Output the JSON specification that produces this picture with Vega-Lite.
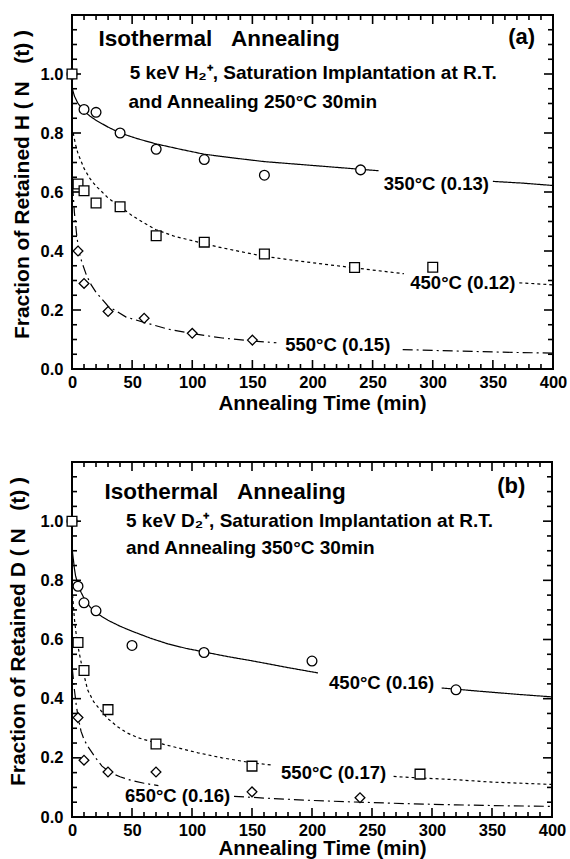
{
  "$schema": "https://vega.github.io/schema/vega-lite/v6.json",
  "padding": {"left": 6, "top": 13, "right": 14, "bottom": 0},
  "spacing": 45,
  "config": {
    "view": {"stroke": "black", "strokeWidth": 2},
    "font": "Liberation Sans",
    "axis": {"labelFont": "Liberation Sans", "labelFontWeight": "bold", "labelFontSize": 16.5, "labelColor": "black", "titleFont": "Liberation Sans", "titleFontWeight": "bold", "titleFontSize": 20.5, "titleColor": "black", "ticks": false, "domain": false, "grid": false, "labelOverlap": false, "labelBound": false, "labelFlush": false},
    "text": {"font": "Liberation Sans", "fontWeight": "bold", "color": "black"},
    "rule": {"color": "black", "opacity": 1, "strokeWidth": 1.6}
  },
  "datasets": {
    "xt": [
      {"t": 10, "m": 0}, {"t": 20, "m": 0}, {"t": 30, "m": 0}, {"t": 40, "m": 0}, {"t": 50, "m": 1}, {"t": 60, "m": 0}, {"t": 70, "m": 0}, {"t": 80, "m": 0}, {"t": 90, "m": 0}, {"t": 100, "m": 1},
      {"t": 110, "m": 0}, {"t": 120, "m": 0}, {"t": 130, "m": 0}, {"t": 140, "m": 0}, {"t": 150, "m": 1}, {"t": 160, "m": 0}, {"t": 170, "m": 0}, {"t": 180, "m": 0}, {"t": 190, "m": 0}, {"t": 200, "m": 1},
      {"t": 210, "m": 0}, {"t": 220, "m": 0}, {"t": 230, "m": 0}, {"t": 240, "m": 0}, {"t": 250, "m": 1}, {"t": 260, "m": 0}, {"t": 270, "m": 0}, {"t": 280, "m": 0}, {"t": 290, "m": 0}, {"t": 300, "m": 1},
      {"t": 310, "m": 0}, {"t": 320, "m": 0}, {"t": 330, "m": 0}, {"t": 340, "m": 0}, {"t": 350, "m": 1}, {"t": 360, "m": 0}, {"t": 370, "m": 0}, {"t": 380, "m": 0}, {"t": 390, "m": 0}
    ],
    "yt": [
      {"v": 0.05, "m": 0}, {"v": 0.1, "m": 0}, {"v": 0.15, "m": 0}, {"v": 0.2, "m": 1}, {"v": 0.25, "m": 0}, {"v": 0.3, "m": 0}, {"v": 0.35, "m": 0}, {"v": 0.4, "m": 1},
      {"v": 0.45, "m": 0}, {"v": 0.5, "m": 0}, {"v": 0.55, "m": 0}, {"v": 0.6, "m": 1}, {"v": 0.65, "m": 0}, {"v": 0.7, "m": 0}, {"v": 0.75, "m": 0}, {"v": 0.8, "m": 1},
      {"v": 0.85, "m": 0}, {"v": 0.9, "m": 0}, {"v": 0.95, "m": 0}, {"v": 1.0, "m": 1}, {"v": 1.05, "m": 0}, {"v": 1.1, "m": 0}, {"v": 1.15, "m": 0}
    ],
    "curvesA": [
      {"s": "A", "seg": 1, "t": 0.3, "v": 0.95}, {"s": "A", "seg": 1, "t": 2, "v": 0.925}, {"s": "A", "seg": 1, "t": 5, "v": 0.9}, {"s": "A", "seg": 1, "t": 10, "v": 0.875}, {"s": "A", "seg": 1, "t": 15, "v": 0.857}, {"s": "A", "seg": 1, "t": 20, "v": 0.843}, {"s": "A", "seg": 1, "t": 30, "v": 0.82}, {"s": "A", "seg": 1, "t": 40, "v": 0.8}, {"s": "A", "seg": 1, "t": 55, "v": 0.78}, {"s": "A", "seg": 1, "t": 70, "v": 0.763}, {"s": "A", "seg": 1, "t": 90, "v": 0.745}, {"s": "A", "seg": 1, "t": 110, "v": 0.728}, {"s": "A", "seg": 1, "t": 135, "v": 0.715}, {"s": "A", "seg": 1, "t": 160, "v": 0.703}, {"s": "A", "seg": 1, "t": 200, "v": 0.69}, {"s": "A", "seg": 1, "t": 240, "v": 0.677}, {"s": "A", "seg": 1, "t": 255, "v": 0.672},
      {"s": "A", "seg": 2, "t": 350, "v": 0.636}, {"s": "A", "seg": 2, "t": 375, "v": 0.63}, {"s": "A", "seg": 2, "t": 400, "v": 0.622},
      {"s": "B", "seg": 1, "t": 1, "v": 0.8}, {"s": "B", "seg": 1, "t": 3, "v": 0.76}, {"s": "B", "seg": 1, "t": 5, "v": 0.73}, {"s": "B", "seg": 1, "t": 8, "v": 0.7}, {"s": "B", "seg": 1, "t": 10, "v": 0.68}, {"s": "B", "seg": 1, "t": 15, "v": 0.645}, {"s": "B", "seg": 1, "t": 20, "v": 0.62}, {"s": "B", "seg": 1, "t": 30, "v": 0.58}, {"s": "B", "seg": 1, "t": 40, "v": 0.55}, {"s": "B", "seg": 1, "t": 50, "v": 0.52}, {"s": "B", "seg": 1, "t": 60, "v": 0.495}, {"s": "B", "seg": 1, "t": 70, "v": 0.472}, {"s": "B", "seg": 1, "t": 85, "v": 0.45}, {"s": "B", "seg": 1, "t": 100, "v": 0.435}, {"s": "B", "seg": 1, "t": 120, "v": 0.415}, {"s": "B", "seg": 1, "t": 140, "v": 0.398}, {"s": "B", "seg": 1, "t": 160, "v": 0.382}, {"s": "B", "seg": 1, "t": 185, "v": 0.368}, {"s": "B", "seg": 1, "t": 210, "v": 0.355}, {"s": "B", "seg": 1, "t": 235, "v": 0.343}, {"s": "B", "seg": 1, "t": 255, "v": 0.333}, {"s": "B", "seg": 1, "t": 276, "v": 0.323},
      {"s": "B", "seg": 2, "t": 372, "v": 0.292}, {"s": "B", "seg": 2, "t": 386, "v": 0.289}, {"s": "B", "seg": 2, "t": 400, "v": 0.285},
      {"s": "C", "seg": 1, "t": 0.5, "v": 0.62}, {"s": "C", "seg": 1, "t": 2, "v": 0.53}, {"s": "C", "seg": 1, "t": 4, "v": 0.45}, {"s": "C", "seg": 1, "t": 6, "v": 0.395}, {"s": "C", "seg": 1, "t": 8, "v": 0.365}, {"s": "C", "seg": 1, "t": 12, "v": 0.318}, {"s": "C", "seg": 1, "t": 16, "v": 0.285}, {"s": "C", "seg": 1, "t": 20, "v": 0.26}, {"s": "C", "seg": 1, "t": 30, "v": 0.213}, {"s": "C", "seg": 1, "t": 45, "v": 0.176}, {"s": "C", "seg": 1, "t": 60, "v": 0.158}, {"s": "C", "seg": 1, "t": 80, "v": 0.135}, {"s": "C", "seg": 1, "t": 100, "v": 0.12}, {"s": "C", "seg": 1, "t": 125, "v": 0.105}, {"s": "C", "seg": 1, "t": 150, "v": 0.095}, {"s": "C", "seg": 1, "t": 170, "v": 0.089},
      {"s": "C", "seg": 2, "t": 275, "v": 0.066}, {"s": "C", "seg": 2, "t": 300, "v": 0.063}, {"s": "C", "seg": 2, "t": 340, "v": 0.059}, {"s": "C", "seg": 2, "t": 370, "v": 0.056}, {"s": "C", "seg": 2, "t": 400, "v": 0.054}
    ],
    "pointsA": [
      {"s": "A", "t": 0, "v": 1.0}, {"s": "A", "t": 10, "v": 0.88}, {"s": "A", "t": 20, "v": 0.87}, {"s": "A", "t": 40, "v": 0.8}, {"s": "A", "t": 70, "v": 0.745}, {"s": "A", "t": 110, "v": 0.71}, {"s": "A", "t": 160, "v": 0.657}, {"s": "A", "t": 240, "v": 0.675},
      {"s": "B", "t": 0, "v": 1.0}, {"s": "B", "t": 5, "v": 0.627}, {"s": "B", "t": 10, "v": 0.604}, {"s": "B", "t": 20, "v": 0.563}, {"s": "B", "t": 40, "v": 0.55}, {"s": "B", "t": 70, "v": 0.452}, {"s": "B", "t": 110, "v": 0.43}, {"s": "B", "t": 160, "v": 0.39}, {"s": "B", "t": 235, "v": 0.344}, {"s": "B", "t": 300, "v": 0.345},
      {"s": "C", "t": 5, "v": 0.4}, {"s": "C", "t": 10, "v": 0.29}, {"s": "C", "t": 30, "v": 0.195}, {"s": "C", "t": 60, "v": 0.172}, {"s": "C", "t": 100, "v": 0.121}, {"s": "C", "t": 150, "v": 0.098}
    ],
    "labelsA": [
      {"label": "350°C (0.13)", "t": 303, "v": 0.626},
      {"label": "450°C (0.12)", "t": 325, "v": 0.29},
      {"label": "550°C (0.15)", "t": 221, "v": 0.083}
    ],
    "curvesB": [
      {"s": "A", "seg": 1, "t": 0.3, "v": 0.9}, {"s": "A", "seg": 1, "t": 2, "v": 0.84}, {"s": "A", "seg": 1, "t": 3, "v": 0.815}, {"s": "A", "seg": 1, "t": 5, "v": 0.785}, {"s": "A", "seg": 1, "t": 7.5, "v": 0.76}, {"s": "A", "seg": 1, "t": 10, "v": 0.74}, {"s": "A", "seg": 1, "t": 15, "v": 0.71}, {"s": "A", "seg": 1, "t": 20, "v": 0.69}, {"s": "A", "seg": 1, "t": 30, "v": 0.665}, {"s": "A", "seg": 1, "t": 40, "v": 0.645}, {"s": "A", "seg": 1, "t": 50, "v": 0.628}, {"s": "A", "seg": 1, "t": 65, "v": 0.605}, {"s": "A", "seg": 1, "t": 80, "v": 0.585}, {"s": "A", "seg": 1, "t": 95, "v": 0.57}, {"s": "A", "seg": 1, "t": 110, "v": 0.558}, {"s": "A", "seg": 1, "t": 130, "v": 0.542}, {"s": "A", "seg": 1, "t": 150, "v": 0.528}, {"s": "A", "seg": 1, "t": 180, "v": 0.505}, {"s": "A", "seg": 1, "t": 205, "v": 0.487},
      {"s": "A", "seg": 2, "t": 308, "v": 0.436}, {"s": "A", "seg": 2, "t": 320, "v": 0.432}, {"s": "A", "seg": 2, "t": 340, "v": 0.425}, {"s": "A", "seg": 2, "t": 370, "v": 0.415}, {"s": "A", "seg": 2, "t": 400, "v": 0.406},
      {"s": "B", "seg": 1, "t": 0.5, "v": 0.75}, {"s": "B", "seg": 1, "t": 2, "v": 0.67}, {"s": "B", "seg": 1, "t": 4, "v": 0.6}, {"s": "B", "seg": 1, "t": 6, "v": 0.555}, {"s": "B", "seg": 1, "t": 8, "v": 0.515}, {"s": "B", "seg": 1, "t": 10, "v": 0.48}, {"s": "B", "seg": 1, "t": 13, "v": 0.43}, {"s": "B", "seg": 1, "t": 18, "v": 0.39}, {"s": "B", "seg": 1, "t": 24, "v": 0.36}, {"s": "B", "seg": 1, "t": 30, "v": 0.332}, {"s": "B", "seg": 1, "t": 38, "v": 0.305}, {"s": "B", "seg": 1, "t": 46, "v": 0.284}, {"s": "B", "seg": 1, "t": 55, "v": 0.268}, {"s": "B", "seg": 1, "t": 65, "v": 0.256}, {"s": "B", "seg": 1, "t": 75, "v": 0.247}, {"s": "B", "seg": 1, "t": 90, "v": 0.232}, {"s": "B", "seg": 1, "t": 105, "v": 0.217}, {"s": "B", "seg": 1, "t": 125, "v": 0.2}, {"s": "B", "seg": 1, "t": 150, "v": 0.183}, {"s": "B", "seg": 1, "t": 168, "v": 0.175},
      {"s": "B", "seg": 2, "t": 268, "v": 0.137}, {"s": "B", "seg": 2, "t": 290, "v": 0.132}, {"s": "B", "seg": 2, "t": 320, "v": 0.126}, {"s": "B", "seg": 2, "t": 350, "v": 0.118}, {"s": "B", "seg": 2, "t": 375, "v": 0.114}, {"s": "B", "seg": 2, "t": 400, "v": 0.11},
      {"s": "C", "seg": 1, "t": 0.3, "v": 0.5}, {"s": "C", "seg": 1, "t": 2, "v": 0.43}, {"s": "C", "seg": 1, "t": 3.5, "v": 0.38}, {"s": "C", "seg": 1, "t": 5, "v": 0.34}, {"s": "C", "seg": 1, "t": 7.5, "v": 0.29}, {"s": "C", "seg": 1, "t": 10, "v": 0.262}, {"s": "C", "seg": 1, "t": 13, "v": 0.24}, {"s": "C", "seg": 1, "t": 16, "v": 0.222}, {"s": "C", "seg": 1, "t": 20, "v": 0.198}, {"s": "C", "seg": 1, "t": 25, "v": 0.172}, {"s": "C", "seg": 1, "t": 32, "v": 0.15}, {"s": "C", "seg": 1, "t": 40, "v": 0.136}, {"s": "C", "seg": 1, "t": 50, "v": 0.123}, {"s": "C", "seg": 1, "t": 60, "v": 0.114}, {"s": "C", "seg": 1, "t": 72, "v": 0.106},
      {"s": "C", "seg": 2, "t": 135, "v": 0.07}, {"s": "C", "seg": 2, "t": 160, "v": 0.064}, {"s": "C", "seg": 2, "t": 200, "v": 0.056}, {"s": "C", "seg": 2, "t": 240, "v": 0.05}, {"s": "C", "seg": 2, "t": 280, "v": 0.045}, {"s": "C", "seg": 2, "t": 320, "v": 0.041}, {"s": "C", "seg": 2, "t": 360, "v": 0.038}, {"s": "C", "seg": 2, "t": 400, "v": 0.036}
    ],
    "pointsB": [
      {"s": "A", "t": 0, "v": 1.0}, {"s": "A", "t": 5, "v": 0.78}, {"s": "A", "t": 10, "v": 0.724}, {"s": "A", "t": 20, "v": 0.697}, {"s": "A", "t": 50, "v": 0.58}, {"s": "A", "t": 110, "v": 0.556}, {"s": "A", "t": 200, "v": 0.527}, {"s": "A", "t": 320, "v": 0.43},
      {"s": "B", "t": 0, "v": 1.0}, {"s": "B", "t": 5, "v": 0.59}, {"s": "B", "t": 10, "v": 0.495}, {"s": "B", "t": 30, "v": 0.363}, {"s": "B", "t": 70, "v": 0.247}, {"s": "B", "t": 150, "v": 0.172}, {"s": "B", "t": 290, "v": 0.145},
      {"s": "C", "t": 5, "v": 0.336}, {"s": "C", "t": 10, "v": 0.192}, {"s": "C", "t": 30, "v": 0.152}, {"s": "C", "t": 70, "v": 0.152}, {"s": "C", "t": 150, "v": 0.085}, {"s": "C", "t": 240, "v": 0.065}
    ],
    "labelsB": [
      {"label": "450°C (0.16)", "t": 258, "v": 0.454},
      {"label": "550°C (0.17)", "t": 218, "v": 0.149},
      {"label": "650°C (0.16)", "t": 88, "v": 0.07}
    ]
  },
  "vconcat": [
    {
      "width": 481,
      "height": 354,
      "layer": [
        {
          "data": {"name": "curvesA"},
          "mark": {"type": "line", "color": "black", "strokeWidth": 1.2},
          "encoding": {
            "x": {"field": "t", "type": "quantitative", "scale": {"domain": [0, 400], "nice": false},
              "axis": {"orient": "bottom", "values": [0,50,100,150,200,250,300,350,400], "labelPadding": 5, "title": "Annealing Time (min)", "titleX": 250, "titleY": 34, "titleBaseline": "middle"}},
            "y": {"field": "v", "type": "quantitative", "scale": {"domain": [0, 1.2], "nice": false},
              "axis": {"orient": "left", "values": [0,0.2,0.4,0.6,0.8,1.0], "format": ".1f", "labelPadding": 9, "title": "Fraction of Retained H ( N\u00a0\u00a0\u00a0(t) )", "titleFontSize": 21, "titleX": -50, "titleY": 169, "titleBaseline": "middle"}},
            "strokeDash": {"field": "s", "type": "nominal", "scale": {"domain": ["A", "B", "C"], "range": [[1, 0], [3, 3], [10, 4, 2, 4]]}, "legend": null},
            "detail": {"field": "seg", "type": "nominal"},
            "order": {"field": "t", "type": "quantitative"}
          }
        },
        {"data": {"name": "xt"}, "transform": [{"filter": "datum.m == 1"}], "mark": {"type": "rule", "y2Offset": -9},
          "encoding": {"x": {"field": "t", "type": "quantitative", "axis": null}, "y": {"datum": 0, "type": "quantitative", "axis": null}, "y2": {"datum": 0}}},
        {"data": {"name": "xt"}, "transform": [{"filter": "datum.m == 0"}], "mark": {"type": "rule", "y2Offset": -5},
          "encoding": {"x": {"field": "t", "type": "quantitative", "axis": null}, "y": {"datum": 0, "type": "quantitative", "axis": null}, "y2": {"datum": 0}}},
        {"data": {"name": "xt"}, "transform": [{"filter": "datum.m == 1"}], "mark": {"type": "rule", "y2Offset": 9},
          "encoding": {"x": {"field": "t", "type": "quantitative", "axis": null}, "y": {"datum": 1.2, "type": "quantitative", "axis": null}, "y2": {"datum": 1.2}}},
        {"data": {"name": "xt"}, "transform": [{"filter": "datum.m == 0"}], "mark": {"type": "rule", "y2Offset": 5},
          "encoding": {"x": {"field": "t", "type": "quantitative", "axis": null}, "y": {"datum": 1.2, "type": "quantitative", "axis": null}, "y2": {"datum": 1.2}}},
        {"data": {"name": "yt"}, "transform": [{"filter": "datum.m == 1"}], "mark": {"type": "rule", "x2Offset": 9},
          "encoding": {"y": {"field": "v", "type": "quantitative", "axis": null}, "x": {"datum": 0, "type": "quantitative", "axis": null}, "x2": {"datum": 0}}},
        {"data": {"name": "yt"}, "transform": [{"filter": "datum.m == 0"}], "mark": {"type": "rule", "x2Offset": 5},
          "encoding": {"y": {"field": "v", "type": "quantitative", "axis": null}, "x": {"datum": 0, "type": "quantitative", "axis": null}, "x2": {"datum": 0}}},
        {"data": {"name": "yt"}, "transform": [{"filter": "datum.m == 1"}], "mark": {"type": "rule", "x2Offset": -9},
          "encoding": {"y": {"field": "v", "type": "quantitative", "axis": null}, "x": {"datum": 400, "type": "quantitative", "axis": null}, "x2": {"datum": 400}}},
        {"data": {"name": "yt"}, "transform": [{"filter": "datum.m == 0"}], "mark": {"type": "rule", "x2Offset": -5},
          "encoding": {"y": {"field": "v", "type": "quantitative", "axis": null}, "x": {"datum": 400, "type": "quantitative", "axis": null}, "x2": {"datum": 400}}},
        {
          "data": {"name": "pointsA"},
          "mark": {"type": "point", "filled": true, "fill": "white", "stroke": "black", "strokeWidth": 1.3, "opacity": 1, "size": 95},
          "encoding": {
            "x": {"field": "t", "type": "quantitative", "axis": null},
            "y": {"field": "v", "type": "quantitative", "axis": null},
            "shape": {"field": "s", "type": "nominal", "scale": {"domain": ["A", "B", "C"], "range": ["circle", "square", "diamond"]}, "legend": null}
          }
        },
        {
          "data": {"name": "labelsA"},
          "mark": {"type": "text", "fontSize": 18.5, "align": "center", "baseline": "middle"},
          "encoding": {
            "x": {"field": "t", "type": "quantitative", "axis": null},
            "y": {"field": "v", "type": "quantitative", "axis": null},
            "text": {"field": "label"}
          }
        },
        {
          "data": {"values": [{}]},
          "mark": {"type": "text", "fontSize": 22.5, "align": "left", "baseline": "middle"},
          "encoding": {"x": {"datum": 22, "type": "quantitative", "axis": null}, "y": {"datum": 1.118, "type": "quantitative", "axis": null}, "text": {"value": "Isothermal\u00a0\u00a0\u00a0Annealing"}}
        },
        {
          "data": {"values": [{}]},
          "mark": {"type": "text", "fontSize": 22, "align": "center", "baseline": "middle"},
          "encoding": {"x": {"datum": 374, "type": "quantitative", "axis": null}, "y": {"datum": 1.125, "type": "quantitative", "axis": null}, "text": {"value": "(a)"}}
        },
        {
          "data": {"values": [{}]},
          "mark": {"type": "text", "fontSize": 19, "align": "left", "baseline": "middle"},
          "encoding": {"x": {"datum": 48, "type": "quantitative", "axis": null}, "y": {"datum": 1.005, "type": "quantitative", "axis": null}, "text": {"value": "5 keV H₂⁺, Saturation Implantation at R.T."}}
        },
        {
          "data": {"values": [{}]},
          "mark": {"type": "text", "fontSize": 19, "align": "left", "baseline": "middle"},
          "encoding": {"x": {"datum": 47, "type": "quantitative", "axis": null}, "y": {"datum": 0.906, "type": "quantitative", "axis": null}, "text": {"value": "and Annealing 250°C 30min"}}
        }
      ],
      "resolve": {"axis": {"x": "independent", "y": "independent"}}
    },
    {
      "width": 480,
      "height": 355,
      "layer": [
        {
          "data": {"name": "curvesB"},
          "mark": {"type": "line", "color": "black", "strokeWidth": 1.2},
          "encoding": {
            "x": {"field": "t", "type": "quantitative", "scale": {"domain": [0, 400], "nice": false},
              "axis": {"orient": "bottom", "values": [0,50,100,150,200,250,300,350,400], "labelPadding": 5, "title": "Annealing Time (min)", "titleX": 250, "titleY": 31, "titleBaseline": "middle"}},
            "y": {"field": "v", "type": "quantitative", "scale": {"domain": [0, 1.2], "nice": false},
              "axis": {"orient": "left", "values": [0,0.2,0.4,0.6,0.8,1.0], "format": ".1f", "labelPadding": 9, "title": "Fraction of Retained D ( N\u00a0\u00a0\u00a0(t) )", "titleFontSize": 21, "titleX": -54, "titleY": 169, "titleBaseline": "middle"}},
            "strokeDash": {"field": "s", "type": "nominal", "scale": {"domain": ["A", "B", "C"], "range": [[1, 0], [3, 3], [10, 4, 2, 4]]}, "legend": null},
            "detail": {"field": "seg", "type": "nominal"},
            "order": {"field": "t", "type": "quantitative"}
          }
        },
        {"data": {"name": "xt"}, "transform": [{"filter": "datum.m == 1"}], "mark": {"type": "rule", "y2Offset": -9},
          "encoding": {"x": {"field": "t", "type": "quantitative", "axis": null}, "y": {"datum": 0, "type": "quantitative", "axis": null}, "y2": {"datum": 0}}},
        {"data": {"name": "xt"}, "transform": [{"filter": "datum.m == 0"}], "mark": {"type": "rule", "y2Offset": -5},
          "encoding": {"x": {"field": "t", "type": "quantitative", "axis": null}, "y": {"datum": 0, "type": "quantitative", "axis": null}, "y2": {"datum": 0}}},
        {"data": {"name": "xt"}, "transform": [{"filter": "datum.m == 1"}], "mark": {"type": "rule", "y2Offset": 9},
          "encoding": {"x": {"field": "t", "type": "quantitative", "axis": null}, "y": {"datum": 1.2, "type": "quantitative", "axis": null}, "y2": {"datum": 1.2}}},
        {"data": {"name": "xt"}, "transform": [{"filter": "datum.m == 0"}], "mark": {"type": "rule", "y2Offset": 5},
          "encoding": {"x": {"field": "t", "type": "quantitative", "axis": null}, "y": {"datum": 1.2, "type": "quantitative", "axis": null}, "y2": {"datum": 1.2}}},
        {"data": {"name": "yt"}, "transform": [{"filter": "datum.m == 1"}], "mark": {"type": "rule", "x2Offset": 9},
          "encoding": {"y": {"field": "v", "type": "quantitative", "axis": null}, "x": {"datum": 0, "type": "quantitative", "axis": null}, "x2": {"datum": 0}}},
        {"data": {"name": "yt"}, "transform": [{"filter": "datum.m == 0"}], "mark": {"type": "rule", "x2Offset": 5},
          "encoding": {"y": {"field": "v", "type": "quantitative", "axis": null}, "x": {"datum": 0, "type": "quantitative", "axis": null}, "x2": {"datum": 0}}},
        {"data": {"name": "yt"}, "transform": [{"filter": "datum.m == 1"}], "mark": {"type": "rule", "x2Offset": -9},
          "encoding": {"y": {"field": "v", "type": "quantitative", "axis": null}, "x": {"datum": 400, "type": "quantitative", "axis": null}, "x2": {"datum": 400}}},
        {"data": {"name": "yt"}, "transform": [{"filter": "datum.m == 0"}], "mark": {"type": "rule", "x2Offset": -5},
          "encoding": {"y": {"field": "v", "type": "quantitative", "axis": null}, "x": {"datum": 400, "type": "quantitative", "axis": null}, "x2": {"datum": 400}}},
        {
          "data": {"name": "pointsB"},
          "mark": {"type": "point", "filled": true, "fill": "white", "stroke": "black", "strokeWidth": 1.3, "opacity": 1, "size": 95},
          "encoding": {
            "x": {"field": "t", "type": "quantitative", "axis": null},
            "y": {"field": "v", "type": "quantitative", "axis": null},
            "shape": {"field": "s", "type": "nominal", "scale": {"domain": ["A", "B", "C"], "range": ["circle", "square", "diamond"]}, "legend": null}
          }
        },
        {
          "data": {"name": "labelsB"},
          "mark": {"type": "text", "fontSize": 18.5, "align": "center", "baseline": "middle"},
          "encoding": {
            "x": {"field": "t", "type": "quantitative", "axis": null},
            "y": {"field": "v", "type": "quantitative", "axis": null},
            "text": {"field": "label"}
          }
        },
        {
          "data": {"values": [{}]},
          "mark": {"type": "text", "fontSize": 22.5, "align": "left", "baseline": "middle"},
          "encoding": {"x": {"datum": 27, "type": "quantitative", "axis": null}, "y": {"datum": 1.1, "type": "quantitative", "axis": null}, "text": {"value": "Isothermal\u00a0\u00a0\u00a0Annealing"}}
        },
        {
          "data": {"values": [{}]},
          "mark": {"type": "text", "fontSize": 22, "align": "center", "baseline": "middle"},
          "encoding": {"x": {"datum": 366, "type": "quantitative", "axis": null}, "y": {"datum": 1.12, "type": "quantitative", "axis": null}, "text": {"value": "(b)"}}
        },
        {
          "data": {"values": [{}]},
          "mark": {"type": "text", "fontSize": 19, "align": "left", "baseline": "middle"},
          "encoding": {"x": {"datum": 45, "type": "quantitative", "axis": null}, "y": {"datum": 1.0, "type": "quantitative", "axis": null}, "text": {"value": "5 keV D₂⁺, Saturation Implantation at R.T."}}
        },
        {
          "data": {"values": [{}]},
          "mark": {"type": "text", "fontSize": 19, "align": "left", "baseline": "middle"},
          "encoding": {"x": {"datum": 45, "type": "quantitative", "axis": null}, "y": {"datum": 0.91, "type": "quantitative", "axis": null}, "text": {"value": "and Annealing 350°C 30min"}}
        }
      ],
      "resolve": {"axis": {"x": "independent", "y": "independent"}}
    }
  ]
}
